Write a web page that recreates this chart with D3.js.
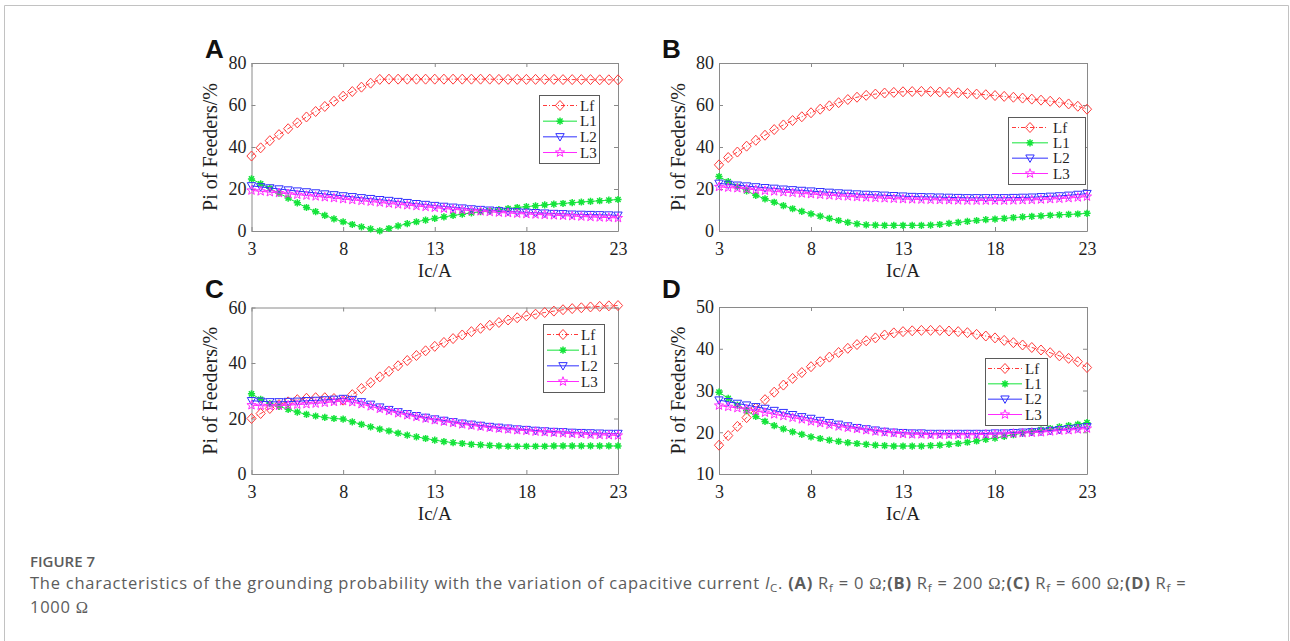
<!DOCTYPE html>
<html>
<head>
<meta charset="utf-8">
<script src="https://cdn.jsdelivr.net/npm/d3@7/dist/d3.min.js"></script>
<style>
  html, body { margin: 0; padding: 0; background: #ffffff; }
  svg { display: block; }
</style>
</head>
<body>
<svg id="fig" width="1290" height="641"></svg>
<script>
// ---- capacitive current grid (A) ----
const current = [3, 3.5, 4, 4.5, 5, 5.5, 6, 6.5, 7, 7.5, 8, 8.5, 9, 9.5, 10, 10.5, 11, 11.5, 12, 12.5,
                 13, 13.5, 14, 14.5, 15, 15.5, 16, 16.5, 17, 17.5, 18, 18.5, 19, 19.5, 20, 20.5, 21, 21.5, 22, 22.5, 23];
const seriesNames = ["Lf", "L1", "L2", "L3"];
const xTicks = [3, 8, 13, 18, 23];

// ---- (A) Rf = 0 Ω ----
const lfA = [35.7, 39.6, 43.0, 45.9, 48.7, 51.5, 54.3, 56.9, 59.3, 61.8, 64.2, 66.4, 68.5, 70.4, 72.2,
             72.3, 72.3, 72.3, 72.3, 72.3, 72.3, 72.3, 72.3, 72.3, 72.3, 72.3, 72.3,
             72.2, 72.2, 72.2, 72.2, 72.2, 72.2, 72.2, 72.1, 72.1, 72.1, 72.1, 72.0, 72.0, 72.0];
const l1A = [24.8, 22.5, 20.3, 18.0, 15.7, 13.4, 11.2, 9.2, 7.4, 5.8, 4.4, 3.1, 2.0, 1.0, 0.1,
             1.2, 2.4, 3.5, 4.4, 5.2, 6.0, 6.7, 7.4, 8.0, 8.6, 9.2, 9.7, 10.2, 10.7, 11.2,
             11.6, 12.0, 12.4, 12.8, 13.1, 13.5, 13.8, 14.1, 14.4, 14.7, 15.0];
const l2A = [21.5, 21.0, 20.5, 20.0, 19.5, 19.0, 18.6, 18.1, 17.6, 17.2, 16.7, 16.3, 15.8, 15.4, 14.9,
             14.5, 14.0, 13.5, 13.0, 12.6, 12.1, 11.7, 11.3, 10.9, 10.5, 10.2, 9.9, 9.6, 9.3, 9.1,
             8.9, 8.7, 8.5, 8.3, 8.2, 8.0, 7.9, 7.8, 7.7, 7.6, 7.5];
const l3A = [19.3, 18.9, 18.5, 18.1, 17.7, 17.3, 16.9, 16.5, 16.1, 15.7, 15.2, 14.8, 14.4, 14.0, 13.6,
             13.1, 12.7, 12.3, 11.9, 11.5, 11.1, 10.7, 10.3, 10.0, 9.7, 9.4, 9.1, 8.8, 8.6, 8.3,
             8.1, 7.9, 7.7, 7.5, 7.3, 7.1, 6.9, 6.7, 6.5, 6.4, 6.2];

// ---- (B) Rf = 200 Ω ----
const lfB = [31.5, 35.0, 37.6, 40.4, 43.2, 45.6, 48.3, 50.5, 52.6, 54.4, 56.3, 58.0, 59.6, 61.1, 62.6,
             63.7, 64.6, 65.2, 65.7, 66.0, 66.3, 66.4, 66.5, 66.4, 66.2, 66.0, 65.8, 65.5, 65.2, 64.9,
             64.5, 64.1, 63.7, 63.3, 62.8, 62.3, 61.8, 61.2, 60.5, 59.4, 58.0];
const l1B = [25.9, 23.5, 21.1, 19.1, 17.0, 15.3, 13.7, 12.1, 10.6, 9.3, 8.2, 7.1, 6.0, 5.0, 4.1,
             3.4, 2.9, 2.8, 2.7, 2.7, 2.7, 2.7, 2.7, 2.8, 3.1, 3.6, 4.1, 4.6, 5.0, 5.4,
             5.7, 6.0, 6.4, 6.7, 7.0, 7.2, 7.5, 7.7, 7.9, 8.1, 8.4];
const l2B = [22.7, 22.2, 21.8, 21.4, 21.0, 20.6, 20.3, 19.9, 19.6, 19.3, 19.0, 18.7, 18.4, 18.1, 17.9,
             17.6, 17.4, 17.2, 17.0, 16.8, 16.6, 16.4, 16.3, 16.2, 16.1, 16.0, 15.9, 15.8, 15.8, 15.8,
             15.8, 15.8, 15.9, 16.0, 16.1, 16.3, 16.5, 16.7, 17.0, 17.4, 17.8];
const l3B = [21.0, 20.7, 20.4, 20.0, 19.6, 19.2, 18.9, 18.5, 18.2, 17.9, 17.6, 17.3, 17.0, 16.7, 16.5,
             16.2, 16.0, 15.8, 15.6, 15.4, 15.2, 15.1, 15.0, 14.9, 14.8, 14.7, 14.6, 14.5, 14.5, 14.5,
             14.5, 14.5, 14.6, 14.7, 14.8, 15.0, 15.2, 15.4, 15.7, 16.0, 16.4];

// ---- (C) Rf = 600 Ω ----
const lfC = [20.0, 21.8, 23.6, 25.0, 26.0, 26.8, 27.3, 27.5, 27.5, 27.2, 26.6, 28.6, 30.8, 32.9, 35.0,
             37.0, 39.0, 40.9, 42.7, 44.4, 46.0, 47.4, 48.8, 50.1, 51.3, 52.5, 53.6, 54.6, 55.5, 56.3,
             57.0, 57.6, 58.2, 58.7, 59.2, 59.6, 59.9, 60.2, 60.4, 60.6, 60.7];
const l1C = [28.9, 26.9, 25.4, 24.4, 23.3, 22.3, 21.5, 20.9, 20.4, 20.0, 19.8, 18.8, 17.9, 17.0, 16.2,
             15.5, 14.7, 14.0, 13.4, 12.8, 12.2, 11.7, 11.3, 11.0, 10.7, 10.5, 10.3, 10.1, 10.0, 10.0,
             10.0, 10.0, 10.0, 10.1, 10.1, 10.1, 10.1, 10.1, 10.1, 10.1, 10.1];
const l2C = [26.4, 26.2, 26.0, 26.0, 26.1, 26.2, 26.4, 26.5, 26.7, 26.9, 27.2, 26.8, 26.0, 25.1, 24.1,
             23.2, 22.4, 21.7, 21.0, 20.4, 19.8, 19.3, 18.8, 18.3, 17.9, 17.5, 17.1, 16.8, 16.5, 16.2,
             16.0, 15.7, 15.5, 15.3, 15.2, 15.0, 14.9, 14.8, 14.7, 14.6, 14.6];
const l3C = [24.8, 24.6, 24.5, 24.6, 24.8, 25.0, 25.2, 25.4, 25.7, 26.0, 26.3, 25.9, 25.2, 24.4, 23.5,
             22.7, 21.9, 21.2, 20.6, 20.0, 19.4, 18.9, 18.4, 17.9, 17.5, 17.1, 16.7, 16.4, 16.1, 15.8,
             15.6, 15.3, 15.1, 14.9, 14.7, 14.5, 14.4, 14.2, 14.1, 14.0, 13.9];

// ---- (D) Rf = 1000 Ω ----
const lfD = [16.9, 19.2, 21.4, 23.5, 25.8, 27.8, 29.6, 31.3, 32.9, 34.3, 35.7, 36.9, 38.0, 39.1, 40.1,
             41.0, 41.9, 42.6, 43.3, 43.8, 44.1, 44.3, 44.4, 44.4, 44.4, 44.25, 44.1, 43.85, 43.45, 43.05,
             42.6, 42.0, 41.45, 40.9, 40.3, 39.7, 39.05, 38.3, 37.7, 36.9, 35.5];
const l1D = [29.6, 28.1, 26.5, 25.2, 23.8, 22.6, 21.6, 20.8, 20.1, 19.5, 18.9, 18.5, 18.1, 17.8, 17.5,
             17.3, 17.1, 16.9, 16.8, 16.7, 16.7, 16.7, 16.7, 16.8, 16.9, 17.1, 17.3, 17.6, 17.9, 18.3,
             18.6, 19.0, 19.4, 19.8, 20.2, 20.6, 20.9, 21.3, 21.6, 21.9, 22.3];
const l2D = [27.7, 27.3, 26.9, 26.5, 26.1, 25.7, 25.2, 24.7, 24.2, 23.7, 23.3, 22.8, 22.3, 21.9, 21.5,
             21.1, 20.8, 20.5, 20.2, 20.0, 19.9, 19.8, 19.8, 19.7, 19.7, 19.7, 19.7, 19.7, 19.7, 19.7,
             19.8, 19.8, 19.9, 20.0, 20.1, 20.2, 20.4, 20.6, 20.8, 21.0, 21.3];
const l3D = [26.4, 26.1, 25.8, 25.5, 25.1, 24.7, 24.3, 23.9, 23.5, 23.1, 22.6, 22.2, 21.8, 21.4, 21.1,
             20.8, 20.5, 20.2, 20.0, 19.8, 19.6, 19.5, 19.5, 19.4, 19.4, 19.4, 19.4, 19.4, 19.4, 19.5,
             19.5, 19.6, 19.7, 19.8, 19.9, 20.0, 20.2, 20.4, 20.5, 20.7, 20.9];

// ---- y-axis ticks per panel ----
const yTicksA = [0, 20, 40, 60, 80];
const yTicksB = [0, 20, 40, 60, 80];
const yTicksC = [0, 20, 40, 60];
const yTicksD = [10, 20, 30, 40, 50];

// ---- line/marker styles (MATLAB-like) ----
const styles = [
  { color: "#ff3a3a", dash: "4,2,1,2", marker: "diamond" },
  { color: "#14e43a", dash: null,      marker: "asterisk" },
  { color: "#3030ff", dash: null,      marker: "triangleDown" },
  { color: "#ff2bff", dash: null,      marker: "pentagram" }
];

// ---- panel layout ----
const panels = [
  { letter: "A", data: [lfA, l1A, l2A, l3A], yTicks: yTicksA,
    left: 251.5, right: 618, top: 63, bottom: 231, letterX: 205, letterY: 58,
    legend: { x: 539, y: 95, w: 60, h: 68, l0: 4, l1: 38, tx: 41 } },
  { letter: "B", data: [lfB, l1B, l2B, l3B], yTicks: yTicksB,
    left: 719, right: 1087, top: 63, bottom: 231, letterX: 662, letterY: 58,
    legend: { x: 1008, y: 117, w: 77, h: 67, l0: 4, l1: 40, tx: 45 } },
  { letter: "C", data: [lfC, l1C, l2C, l3C], yTicks: yTicksC,
    left: 251.5, right: 618, top: 307.5, bottom: 474, letterX: 205, letterY: 298,
    legend: { x: 543, y: 324, w: 61, h: 68, l0: 4, l1: 36, tx: 38 } },
  { letter: "D", data: [lfD, l1D, l2D, l3D], yTicks: yTicksD,
    left: 719, right: 1087, top: 307, bottom: 474, letterX: 662, letterY: 298,
    legend: { x: 985, y: 358, w: 62, h: 67, l0: 3, l1: 37, tx: 40 } }
];

const svg = d3.select("#fig");
const AXIS_COLOR = "#8a8a8a";
const TEXT_COLOR = "#1e1e1e";
const SERIF = "'Liberation Serif', 'Times New Roman', serif";

// page frame
svg.append("path")
  .attr("d", "M4.5,641 V5.5 H1288.5 V641")
  .attr("fill", "none").attr("stroke", "#c2c2c2").attr("stroke-width", 1);

function markerPath(kind) {
  switch (kind) {
    case "diamond": {
      const rx = 4.6, ry = 5.0;
      return `M0,${-ry}L${rx},0L0,${ry}L${-rx},0Z`;
    }
    case "triangleDown":
      return "M-4.2,-3.2L4.2,-3.2L0,4.2Z";
    case "pentagram": {
      const ro = 4.8, ri = 2.0;
      let d = "";
      for (let i = 0; i < 10; i++) {
        const r = i % 2 === 0 ? ro : ri;
        const a = -Math.PI / 2 + i * Math.PI / 5;
        d += (i === 0 ? "M" : "L") + (r * Math.cos(a)).toFixed(2) + "," + (r * Math.sin(a)).toFixed(2);
      }
      return d + "Z";
    }
    case "asterisk": {
      const r = 3.6, q = r * 0.72;
      return `M0,${-r}V${r}M${-r},0H${r}M${-q},${-q}L${q},${q}M${-q},${q}L${q},${-q}`;
    }
  }
}

function drawMarker(g, st, cx, cy) {
  g.append("path")
    .attr("transform", `translate(${cx},${cy})`)
    .attr("d", markerPath(st.marker))
    .attr("fill", "none")
    .attr("stroke", st.color)
    .attr("stroke-width", st.marker === "asterisk" ? 1.5 : 1);
}

function drawPanel(p) {
  const x = d3.scaleLinear().domain([3, 23]).range([p.left, p.right]);
  const y = d3.scaleLinear().domain([p.yTicks[0], p.yTicks[p.yTicks.length - 1]]).range([p.bottom, p.top]);
  const g = svg.append("g");

  // axes box with inward ticks
  const bottomAxis = g.append("g").attr("transform", `translate(0,${p.bottom})`)
    .call(d3.axisBottom(x).tickValues(xTicks).tickSizeInner(-4).tickSizeOuter(0).tickPadding(11));
  const topAxis = g.append("g").attr("transform", `translate(0,${p.top})`)
    .call(d3.axisTop(x).tickValues(xTicks).tickSizeInner(-4).tickSizeOuter(0).tickFormat(""));
  const leftAxis = g.append("g").attr("transform", `translate(${p.left},0)`)
    .call(d3.axisLeft(y).tickValues(p.yTicks).tickSizeInner(-4).tickSizeOuter(0).tickPadding(5));
  const rightAxis = g.append("g").attr("transform", `translate(${p.right},0)`)
    .call(d3.axisRight(y).tickValues(p.yTicks).tickSizeInner(-4).tickSizeOuter(0).tickFormat(""));

  [bottomAxis, topAxis, leftAxis, rightAxis].forEach(a => {
    a.selectAll("path.domain").attr("stroke", AXIS_COLOR);
    a.selectAll(".tick line").attr("stroke", AXIS_COLOR);
    a.selectAll(".tick text").attr("fill", TEXT_COLOR)
      .style("font-family", SERIF).style("font-size", "18px");
  });

  // axis titles
  g.append("text")
    .attr("x", (p.left + p.right) / 2).attr("y", p.bottom + 46)
    .attr("text-anchor", "middle").attr("fill", TEXT_COLOR)
    .style("font-family", SERIF).style("font-size", "19px")
    .text("Ic/A");
  g.append("text")
    .attr("transform", `translate(${p.left - 34.5},${(p.top + p.bottom) / 2}) rotate(-90)`)
    .attr("text-anchor", "middle").attr("fill", TEXT_COLOR)
    .style("font-family", SERIF).style("font-size", "20px")
    .text("Pi of Feeders/%");

  // panel letter
  g.append("text")
    .attr("x", p.letterX).attr("y", p.letterY)
    .attr("fill", "#111")
    .style("font-family", "'Liberation Sans', Arial, sans-serif")
    .style("font-size", "26px").style("font-weight", "bold")
    .text(p.letter);

  // series: lines then open markers
  p.data.forEach((vals, i) => {
    const st = styles[i];
    const pts = current.map((c, k) => [c, vals[k]]);
    g.append("path")
      .datum(pts)
      .attr("d", d3.line().x(d => x(d[0])).y(d => y(d[1])))
      .attr("fill", "none")
      .attr("stroke", st.color)
      .attr("stroke-width", 1)
      .attr("stroke-dasharray", st.dash);
    const mg = g.append("g");
    pts.forEach(d => drawMarker(mg, st, x(d[0]), y(d[1])));
  });

  // legend
  const L = p.legend;
  const lg = g.append("g");
  lg.append("rect")
    .attr("x", L.x + 0.5).attr("y", L.y + 0.5).attr("width", L.w).attr("height", L.h)
    .attr("fill", "#ffffff").attr("stroke", "#5a5a5a").attr("stroke-width", 1);
  const step = (L.h - 21) / 3;
  seriesNames.forEach((name, i) => {
    const st = styles[i];
    const ry = L.y + 10.5 + i * step;
    lg.append("line")
      .attr("x1", L.x + L.l0).attr("x2", L.x + L.l1).attr("y1", ry).attr("y2", ry)
      .attr("stroke", st.color).attr("stroke-width", 1)
      .attr("stroke-dasharray", st.dash);
    drawMarker(lg, st, L.x + (L.l0 + L.l1) / 2, ry);
    lg.append("text")
      .attr("x", L.x + L.tx).attr("y", ry + 5)
      .attr("fill", TEXT_COLOR)
      .style("font-family", SERIF).style("font-size", "15px")
      .text(name);
  });
}

panels.forEach(drawPanel);

// caption
const SANS = "'Open Sans', 'Noto Sans', sans-serif";
svg.append("text")
  .attr("x", 30).attr("y", 567)
  .attr("fill", "#5c5c5c")
  .style("font-family", SANS).style("font-size", "15px").style("font-weight", 600)
  .text("FIGURE 7");

const cap = svg.append("text")
  .attr("x", 30).attr("y", 589)
  .attr("fill", "#5c5c5c")
  .style("font-family", SANS).style("font-size", "16.5px")
  .style("letter-spacing", "0.75px");
function part(t, opts = {}) {
  const s = cap.append("tspan").text(t);
  if (opts.bold) s.style("font-weight", 700);
  if (opts.italic) s.style("font-style", "italic");
  if (opts.sub) s.attr("baseline-shift", "-25%").style("font-size", "11.5px");
  if (opts.serif) s.style("font-family", SERIF);
  return s;
}
part("The characteristics of the grounding probability with the variation of capacitive current ");
part("I", { italic: true });
part("C", { sub: true });
part(". ");
const conds = [["(A)", "0"], ["(B)", "200"], ["(C)", "600"]];
conds.forEach(([lab, val]) => {
  part(lab, { bold: true });
  part(" R");
  part("f", { sub: true });
  part(" = " + val + " ");
  part("Ω", { serif: true });
  part(";");
});
part("(D)", { bold: true });
part(" R");
part("f", { sub: true });
part(" =");

const cap2 = svg.append("text")
  .attr("x", 30).attr("y", 613)
  .attr("fill", "#5c5c5c")
  .style("font-family", SANS).style("font-size", "16.5px")
  .style("letter-spacing", "0.75px");
cap2.append("tspan").text("1000 ");
cap2.append("tspan").style("font-family", SERIF).text("Ω");
</script>
</body>
</html>
